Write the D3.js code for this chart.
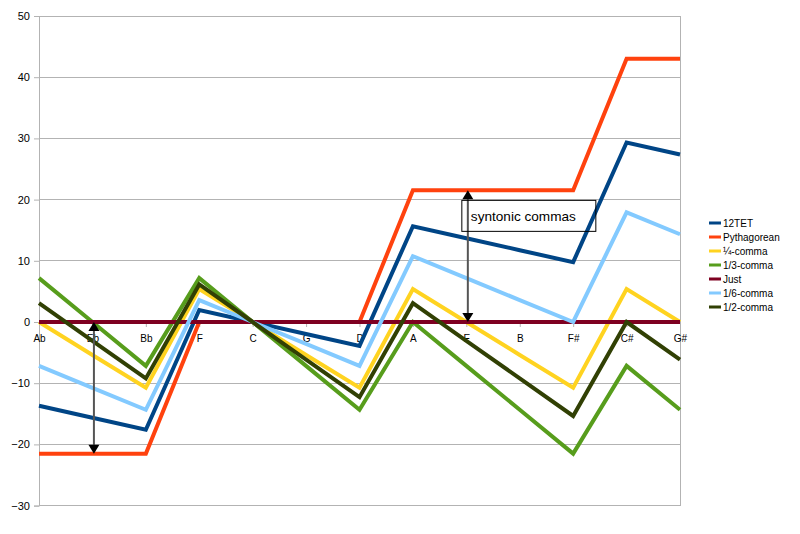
<!DOCTYPE html>
<html><head><meta charset="utf-8">
<script src="https://cdn.jsdelivr.net/npm/d3@7"></script>
<style>body{margin:0;background:#fff}svg{display:block;font-family:"Liberation Sans",Arial,sans-serif}</style>
</head><body><svg id="c" width="800" height="534"></svg>
<script>
const categories = ["Ab","Eb","Bb","F","C","G","D","A","E","B","F#","C#","G#"];
const tet12      = [-13.69,-15.64,-17.60,1.96,0,-1.96,-3.91,15.64,13.69,11.73,9.78,29.33,27.37];
const pythagorean= [-21.51,-21.51,-21.51,0,0,0,0,21.51,21.51,21.51,21.51,43.01,43.01];
const quarterComma=[0,-5.38,-10.75,5.38,0,-5.38,-10.75,5.38,0,-5.38,-10.75,5.38,0];
const thirdComma = [7.17,0,-7.17,7.17,0,-7.17,-14.34,0,-7.17,-14.34,-21.51,-7.17,-14.34];
const just       = [0,0,0,0,0,0,0,0,0,0,0,0,0];
const sixthComma = [-7.17,-10.75,-14.34,3.58,0,-3.58,-7.17,10.75,7.17,3.58,0,17.92,14.34];
const halfComma  = [3.07,-3.07,-9.22,6.14,0,-6.14,-12.29,3.07,-3.07,-9.22,-15.36,0,-6.14];
const seriesNames = ["12TET","Pythagorean","¼-comma","1/3-comma","Just","1/6-comma","1/2-comma"];
const seriesValues = [tet12,pythagorean,quarterComma,thirdComma,just,sixthComma,halfComma];
const seriesColors = ["#004586","#ff420e","#ffd320","#579d1c","#7e0021","#83caff","#314004"];
const yTicks = [-30,-20,-10,0,10,20,30,40,50];
// annotations: arrows [category, from, to]
const arrows = [["Eb",0,-21.51],["E",21.51,0]];
const noteText = "syntonic commas";

const svg = d3.select("#c");
const x = d3.scalePoint().domain(categories).range([39,680]);
const y = d3.scaleLinear().domain([-30,50]).range([505.6,16]);

// grid
svg.append("g").selectAll("line").data(yTicks).join("line")
  .attr("x1",39).attr("x2",680).attr("y1",d=>y(d)).attr("y2",d=>y(d))
  .attr("stroke","#b3b3b3").attr("stroke-width",1).attr("shape-rendering","crispEdges");
svg.append("line").attr("x1",680).attr("x2",680).attr("y1",y(50)).attr("y2",y(-30))
  .attr("stroke","#b3b3b3").attr("shape-rendering","crispEdges");

// y axis
const ya = svg.append("g").attr("transform","translate(39,0)")
  .call(d3.axisLeft(y).tickValues(yTicks).tickSize(5).tickPadding(4).tickFormat(d3.format("d")));
ya.select(".domain").attr("stroke","#b3b3b3");
ya.selectAll(".tick line").attr("stroke","#b3b3b3");
ya.selectAll("text").attr("font-size",11).attr("fill","#000").attr("font-family","Liberation Sans, Arial, sans-serif");

// x axis at zero
const xa = svg.append("g").attr("transform",`translate(0,${y(0)})`)
  .call(d3.axisBottom(x).tickSize(5).tickPadding(8));
xa.select(".domain").attr("stroke","#b3b3b3");
xa.selectAll(".tick line").attr("stroke","#b3b3b3");
xa.selectAll("text").attr("font-size",10).attr("fill","#000").attr("font-family","Liberation Sans, Arial, sans-serif");

// lines
const line = d3.line().x((d,i)=>x(categories[i])).y(d=>y(d));
svg.append("g").selectAll("path").data(seriesValues).join("path")
  .attr("d",d=>line(d)).attr("fill","none")
  .attr("stroke",(d,i)=>seriesColors[i]).attr("stroke-width",4)
  .attr("stroke-linejoin","miter");

// arrows
const ag = svg.append("g");
arrows.forEach(([cat,a,b])=>{
  const cx = x(cat)+1.5;
  const yt = y(Math.max(a,b)), yb = y(Math.min(a,b));
  ag.append("line").attr("x1",cx).attr("x2",cx).attr("y1",yt+6).attr("y2",yb-6)
    .attr("stroke","#555").attr("stroke-width",2);
  ag.append("path").attr("d",`M${cx},${yt} L${cx-5.5},${yt+9} L${cx+5.5},${yt+9}Z`).attr("fill","#000");
  ag.append("path").attr("d",`M${cx},${yb} L${cx-5.5},${yb-9} L${cx+5.5},${yb-9}Z`).attr("fill","#000");
});

// note box
const bx = x("E")-4.5, by = y(21.51)+10;
svg.append("rect").attr("x",bx).attr("y",by).attr("width",134).attr("height",31)
  .attr("fill","none").attr("stroke","#000").attr("stroke-width",1);
svg.append("text").attr("x",bx+9).attr("y",by+21).attr("font-size",13.6).attr("fill","#000").text(noteText);

// legend
const lg = svg.append("g").attr("transform","translate(709,223)");
seriesNames.forEach((n,i)=>{
  const g = lg.append("g").attr("transform",`translate(0,${i*14})`);
  g.append("rect").attr("x",0).attr("y",-1.5).attr("width",12).attr("height",3).attr("fill",seriesColors[i]);
  g.append("text").attr("x",14).attr("y",4).attr("font-size",10).attr("fill","#000").text(n);
});
</script></body></html>
